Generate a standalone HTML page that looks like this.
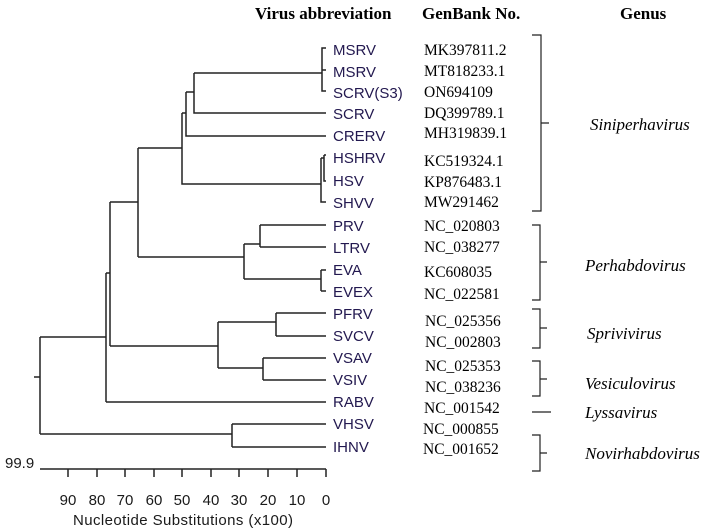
<!DOCTYPE html>
<html><head><meta charset="utf-8"><style>
html,body{margin:0;padding:0;background:#fff;}
svg{display:block;}
.l{font-family:"Liberation Sans",Arial,sans-serif;font-size:15px;fill:#22184f;}
.g{font-family:"Liberation Serif",serif;font-size:15.5px;fill:#000;}
.h{font-family:"Liberation Serif",serif;font-size:17px;font-weight:bold;fill:#000;}
.i{font-family:"Liberation Serif",serif;font-size:17px;font-style:italic;fill:#000;}
.t{font-family:"Liberation Sans",Arial,sans-serif;font-size:15px;fill:#1a1a1a;}
</style></head><body>
<svg width="724" height="531" viewBox="0 0 724 531" xmlns="http://www.w3.org/2000/svg">
<g stroke="#222" stroke-width="1.5" fill="none">
<path d="M326 48H322V91H326 M322 70H326"/>
<path d="M194 73H322 M194 73V113H326"/>
<path d="M186 92H194 M186 92V136H326"/>
<path d="M182 113H186 M182 113V184H321"/>
<path d="M321 158V202H326 M321 158H324 M324 155V181H326 M324 155H326"/>
<path d="M138 148H182 M138 148V257"/>
<path d="M138 257H244 M244 244V279 M244 244H260 M260 225V247 M260 225H326 M260 247H326"/>
<path d="M244 279H321 M321 270V291 M321 270H326 M321 291H326"/>
<path d="M110 202H138 M110 202V346 M106 273H110 M106 273V402 M106 402H326"/>
<path d="M110 346H218 M218 322V368 M218 322H276 M276 313V336 M276 313H326 M276 336H326"/>
<path d="M218 368H263 M263 358V380 M263 358H326 M263 380H326"/>
<path d="M40 337H106 M40 337V434 M34 377H40 M40 434H232 M232 424V447 M232 424H326 M232 447H326"/>
<path d="M40 469H326 M326 469V477 M297 469V477 M268 469V477 M239 469V477 M211 469V477 M182 469V477 M154 469V477 M125 469V477 M97 469V477 M68 469V477"/>
</g>
<g stroke="#222" stroke-width="1.2" fill="none">
<path d="M532 35H541V211H532 M541 123H549"/>
<path d="M532 225H540V300H532 M540 262H547"/>
<path d="M532 309H540V348H532 M540 328H547"/>
<path d="M532 361H540V396H532 M540 379H547"/>
<path d="M532 412H551"/>
<path d="M532 435H540V471H532 M540 453H547"/>
</g>
<text class="h" x="255" y="19">Virus abbreviation</text>
<text class="h" x="422" y="19">GenBank No.</text>
<text class="h" x="620" y="19">Genus</text>
<g class="l">
<text x="333" y="55">MSRV</text><text x="333" y="77">MSRV</text><text x="333" y="98">SCRV(S3)</text>
<text x="333" y="119">SCRV</text><text x="333" y="141">CRERV</text><text x="333" y="163">HSHRV</text>
<text x="333" y="186">HSV</text><text x="333" y="208">SHVV</text><text x="333" y="231">PRV</text>
<text x="333" y="253">LTRV</text><text x="333" y="275">EVA</text><text x="333" y="297">EVEX</text>
<text x="333" y="319">PFRV</text><text x="333" y="341">SVCV</text><text x="333" y="363">VSAV</text>
<text x="333" y="385">VSIV</text><text x="333" y="407">RABV</text><text x="333" y="429">VHSV</text>
<text x="333" y="452">IHNV</text>
</g>
<g class="g">
<text x="424" y="55">MK397811.2</text><text x="424" y="76">MT818233.1</text><text x="424" y="97">ON694109</text>
<text x="424" y="118">DQ399789.1</text><text x="424" y="138">MH319839.1</text><text x="424" y="166">KC519324.1</text>
<text x="424" y="187">KP876483.1</text><text x="424" y="207">MW291462</text><text x="424" y="231">NC_020803</text>
<text x="424" y="252">NC_038277</text><text x="424" y="277">KC608035</text><text x="424" y="299">NC_022581</text>
<text x="425" y="326">NC_025356</text><text x="425" y="347">NC_002803</text><text x="425" y="371">NC_025353</text>
<text x="425" y="392">NC_038236</text><text x="424" y="413">NC_001542</text><text x="423" y="434">NC_000855</text>
<text x="423" y="454">NC_001652</text>
</g>
<g class="i">
<text x="590" y="130">Siniperhavirus</text>
<text x="585" y="271">Perhabdovirus</text>
<text x="587" y="339">Sprivivirus</text>
<text x="585" y="389">Vesiculovirus</text>
<text x="585" y="418">Lyssavirus</text>
<text x="585" y="459">Novirhabdovirus</text>
</g>
<text class="t" x="5" y="468">99.9</text>
<g class="t" text-anchor="middle">
<text x="68" y="505">90</text><text x="97" y="505">80</text><text x="125" y="505">70</text><text x="154" y="505">60</text>
<text x="182" y="505">50</text><text x="211" y="505">40</text><text x="239" y="505">30</text><text x="268" y="505">20</text>
<text x="297" y="505">10</text><text x="326" y="505">0</text>
<text x="183" y="525" textLength="220">Nucleotide Substitutions (x100)</text>
</g>
</svg>
</body></html>
